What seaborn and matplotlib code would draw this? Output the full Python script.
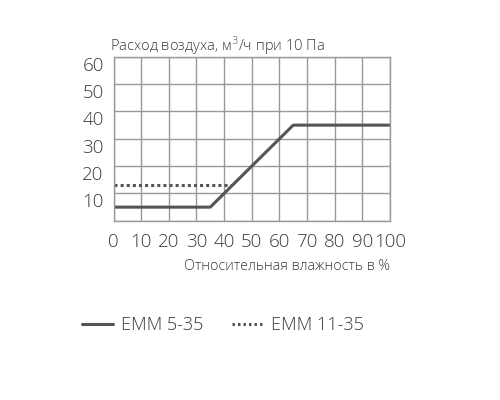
import pandas as pd
import matplotlib.pyplot as plt
import seaborn as sns

# data
humidity_5_35 = [0, 35, 65, 100]
flow_5_35 = [5, 5, 35, 35]
humidity_11_35 = [0, 43]
flow_11_35 = [13, 13]

x_ticks = [0, 10, 20, 30, 40, 50, 60, 70, 80, 90, 100]
y_ticks = [0, 10, 20, 30, 40, 50, 60]
y_tick_labels = ["", "10", "20", "30", "40", "50", "60"]

sns.set_theme(style="white")
plt.rcParams["font.family"] = ["Open Sans", "DejaVu Sans"]
plt.rcParams["font.weight"] = "light"

df = pd.concat([
    pd.DataFrame({"x": humidity_5_35, "y": flow_5_35, "model": "EMM 5-35"}),
    pd.DataFrame({"x": humidity_11_35, "y": flow_11_35, "model": "EMM 11-35"}),
])

fig = plt.figure(figsize=(5, 4), dpi=100)
ax = fig.add_axes([0.227, 0.448, 0.553, 0.41])

line_col = "#555555"
text_col = "#3a3a3a"

sns.lineplot(data=df, x="x", y="y", style="model", color=line_col,
             dashes={"EMM 5-35": "", "EMM 11-35": (1, 1)},
             linewidth=2.2, legend=False, ax=ax, sort=False)

ax.set_xlim(0, 100)
ax.set_ylim(0, 60)
ax.set_xticks(x_ticks)
ax.set_yticks(y_ticks)
ax.set_yticklabels(y_tick_labels, va="top")
ax.grid(True, color="#999999", linewidth=1.0)
ax.tick_params(axis="x", length=0, labelsize=13.5, labelcolor=text_col, pad=9)
ax.tick_params(axis="y", length=0, labelsize=13.5, labelcolor=text_col, pad=7)
for s in ax.spines.values():
    s.set_color("#999999")
    s.set_linewidth(1.0)
ax.set_xlabel("")
ax.set_ylabel("")

fig.text(0.22, 0.887, "Расход воздуха, м$^3$/ч при 10 Па", fontsize=10.5,
         color=text_col, va="center", ha="left")
fig.text(0.78, 0.333, "Относительная влажность в %", fontsize=10.3,
         color=text_col, va="center", ha="right")

h1, = ax.plot([], [], color=line_col, linewidth=2.2, label="EMM 5-35")
h2, = ax.plot([], [], color=line_col, linewidth=2.2, linestyle=(0, (0.8, 1)),
              label="EMM 11-35")
fig.legend(handles=[h1, h2], loc="center left", bbox_to_anchor=(0.131, 0.187),
           ncol=2, frameon=False, fontsize=13, handlelength=1.75,
           handletextpad=0.4, columnspacing=1.6, labelcolor=text_col)

fig.savefig("out.png", dpi=100, facecolor="white")
